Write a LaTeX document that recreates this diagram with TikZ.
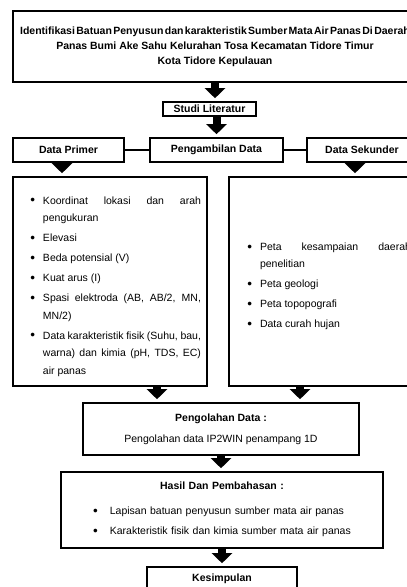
\documentclass[tikz,border=0pt]{standalone}
\usepackage{fontspec}
\setmainfont{Liberation Sans}
\usetikzlibrary{arrows.meta}

% bigger bullet mark
\newcommand{\bigdot}{\raisebox{-0.6pt}{\fontsize{13.5}{13.5}\selectfont\textbullet}}

% bullet list used inside the boxes
\newenvironment{dotlist}[1]{%
  \begin{list}{\bigdot}{%
    \setlength{\leftmargin}{#1}%
    \setlength{\labelsep}{8pt}%
    \setlength{\labelwidth}{10pt}%
    \setlength{\itemsep}{2.5pt}%
    \setlength{\parsep}{0pt}%
    \setlength{\topsep}{0pt}%
    \setlength{\partopsep}{0pt}}}%
  {\end{list}}

\begin{document}
\begin{tikzpicture}[
        x=1pt, y=-1pt,
        box_style/.style={draw=black, line width=1.6pt, rectangle, inner sep=0pt,
            font=\fontsize{10.5}{12.6}\selectfont},
        tag_style/.style={box_style, font=\fontsize{10.5}{12.6}\selectfont\bfseries},
        list_style/.style={box_style, align=justify, inner xsep=6pt,
            font=\fontsize{10.5}{17.5}\selectfont},
        flow_arrow/.style={line width=8pt, -{Triangle[width=20pt,length=10pt]}, shorten >=3pt},
        link_style/.style={line width=1.2pt}
    ]
        \useasboundingbox (0,0) rectangle (407,587);
        \clip (0,0) rectangle (407,587);

        % Boxes
        \node[tag_style, minimum width=404pt, minimum height=71pt, align=center,
            font=\fontsize{10.5}{15}\selectfont\bfseries] (top) at (215,46.5)
            {{\spaceskip=1.4pt\relax Identifikasi Batuan Penyusun dan karakteristik Sumber Mata Air Panas Di Daerah}\\
             Panas Bumi Ake Sahu Kelurahan Tosa Kecamatan Tidore Timur\\
             Kota Tidore Kepulauan};
        \node[tag_style, minimum width=93pt, minimum height=14pt] (studi) at (209.5,109) {Studi Literatur};
        \node[tag_style, minimum width=133pt, minimum height=24pt] (ambil) at (216.5,150) {Pengambilan Data};
        \node[tag_style, minimum width=111pt, minimum height=24pt] (primer) at (68.5,150) {Data Primer};
        \node[tag_style, minimum width=110pt, minimum height=24pt] (sekunder) at (362,150) {Data Sekunder};

        \node[list_style, text width=182pt, minimum height=209pt] (listL) at (110,281.5) {%
            \begin{dotlist}{24pt}
            \item Koordinat lokasi dan arah\linebreak pengukuran
            \item Elevasi
            \item Beda potensial (V)
            \item Kuat arus (I)
            \item Spasi elektroda (AB, AB/2, MN,\linebreak MN/2)
            \item Data karakteristik fisik (Suhu, bau,\linebreak warna) dan kimia (pH, TDS, EC)\linebreak air panas
            \end{dotlist}\par\vspace*{18pt}};
        \node[list_style, text width=176pt, minimum height=209pt] (listR) at (323,281.5) {%
            \begin{dotlist}{25pt}
            \item Peta kesampaian daerah\linebreak penelitian
            \item Peta geologi
            \item Peta topopografi
            \item Data curah hujan
            \end{dotlist}\par\vspace*{20pt}};

        \node[box_style, minimum width=276pt, minimum height=52pt, align=center] (olah) at (221,429)
            {\textbf{Pengolahan Data :}\\[8.4pt] Pengolahan data IP2WIN penampang 1D};
        \node[box_style, minimum width=322pt, minimum height=76pt, text width=310pt, align=center] (hasil) at (222,510)
            {\textbf{Hasil Dan Pembahasan :}\\[13pt]
             \begin{tabular}[t]{@{}l@{\hspace{12pt}}l@{}}
             \bigdot & Lapisan batuan penyusun sumber mata air panas\\[7pt]
             \bigdot & Karakteristik fisik dan kimia sumber mata air panas
             \end{tabular}};
        \node[tag_style, minimum width=150pt, minimum height=24pt] (kes) at (222,579) {Kesimpulan};

        % Arrow start points
        \coordinate (p_out) at ([xshift=-6.5pt]primer.south);
        \coordinate (s_out) at ([xshift=-7pt]sekunder.south);
        \coordinate (l_out) at ([xshift=47pt]listL.south);
        \coordinate (r_out) at ([xshift=-23pt]listR.south);

        % Links
        \draw[link_style] (primer.east) -- (ambil.west);
        \draw[link_style] (ambil.east) -- (sekunder.west);

        % Arrows
        \draw[flow_arrow] (top.south) -- (top.south |- studi.north);
        \draw[flow_arrow] (studi.south -| ambil.north) -- (ambil.north);
        \draw[flow_arrow] (p_out) -- (p_out |- listL.north);
        \draw[flow_arrow] (s_out) -- (s_out |- listR.north);
        \draw[flow_arrow] (l_out) -- (l_out |- olah.north);
        \draw[flow_arrow] (r_out) -- (r_out |- olah.north);
        \draw[flow_arrow] (olah.south) -- (olah.south |- hasil.north);
        \draw[flow_arrow] (hasil.south) -- (hasil.south |- kes.north);
    \end{tikzpicture}
\end{document}
